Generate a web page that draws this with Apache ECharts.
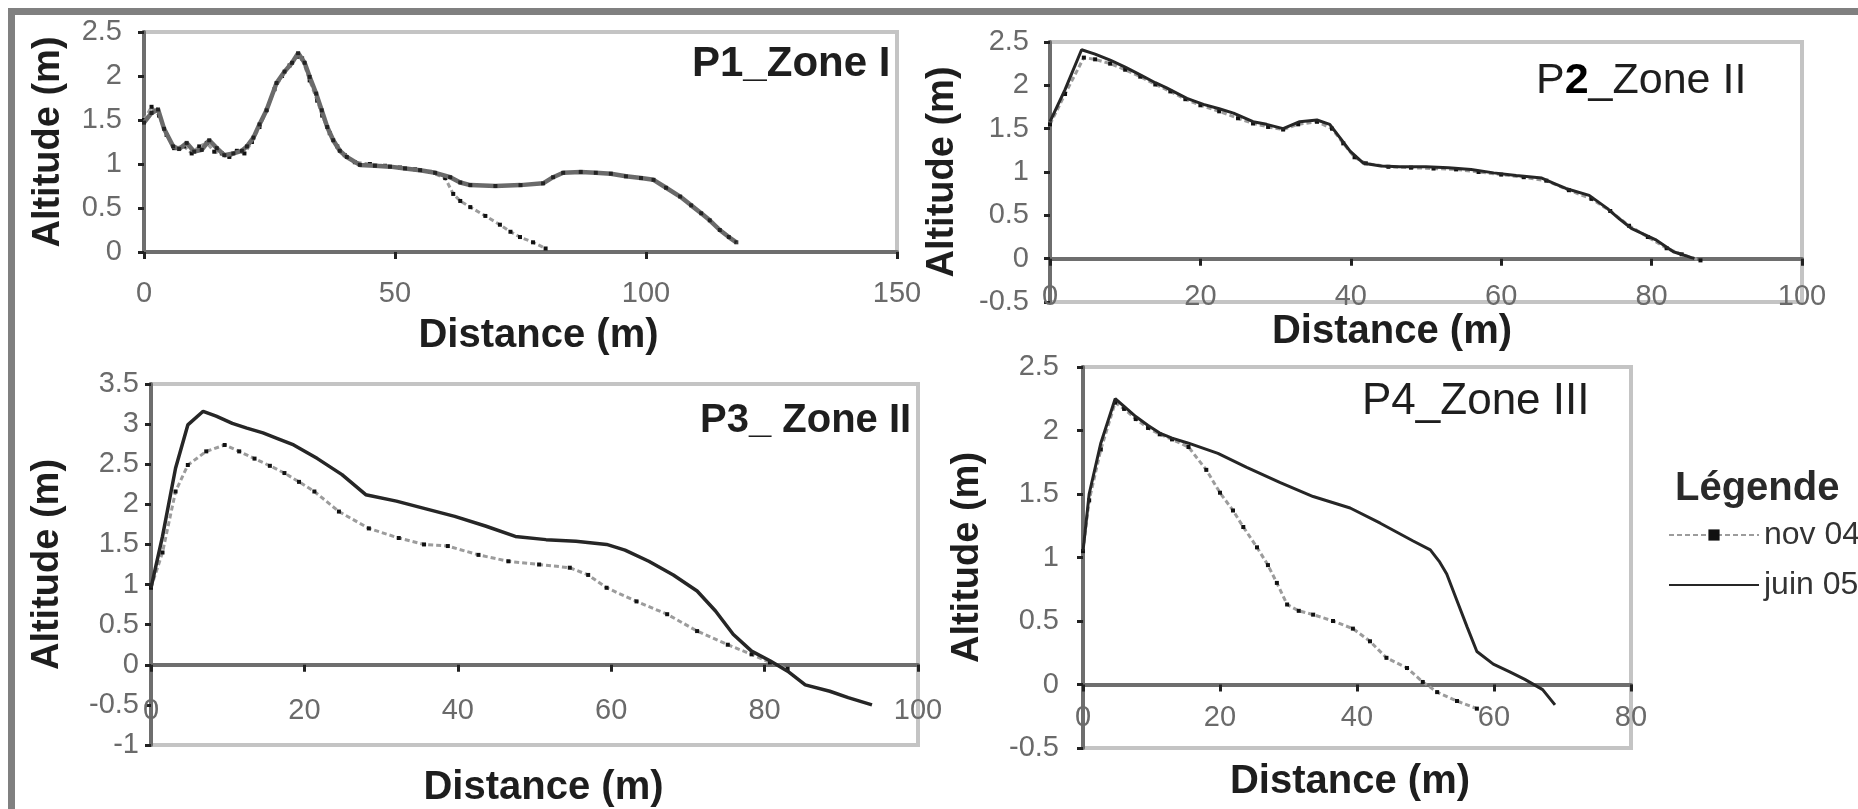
<!DOCTYPE html>
<html>
<head>
<meta charset="utf-8">
<script src="https://cdn.jsdelivr.net/npm/echarts@6/dist/echarts.min.js"></script>
<style>
html,body{margin:0;padding:0;background:#fff;}
#chart{width:1858px;height:809px;}
</style>
</head>
<body>
<div id="chart"></div>
<script>
// ---- data: [distance (m), altitude (m)] ----
var seriesNames = ['nov 04', 'juin 05'];

var p1Nov = [[0,1.5],[1.5,1.65],[3,1.55],[4.5,1.33],[6,1.18],[8,1.2],[9.5,1.12],[11,1.2],[12.5,1.24],[14,1.14],[15.5,1.12],[17,1.08],[18.5,1.15],[20,1.12],[21.5,1.25],[23,1.42],[24.5,1.62],[26,1.85],[27.5,2.0],[29,2.12],[30.5,2.22],[31.5,2.2],[33,1.95],[34.5,1.72],[35.5,1.55],[37,1.35],[38.5,1.2],[40,1.1],[42,1.02],[45,1.0],[48,0.98],[51,0.96],[54,0.94],[57,0.91],[60,0.84],[61.6,0.66],[63,0.58],[65,0.51],[68,0.41],[70.9,0.31],[73,0.23],[74.9,0.17],[77.5,0.11],[80,0.04]];
var p1Juin = [[0,1.47],[1.5,1.58],[2.8,1.62],[4,1.4],[5.8,1.2],[7,1.17],[8.5,1.24],[10,1.14],[11.5,1.16],[13,1.27],[14.5,1.18],[16,1.1],[17.8,1.12],[19.5,1.15],[20.5,1.2],[21.8,1.3],[23,1.45],[24.4,1.61],[26.4,1.92],[28,2.05],[29.5,2.15],[30.7,2.26],[32,2.15],[33,1.99],[34.3,1.8],[35.4,1.61],[36.5,1.42],[37.7,1.27],[39,1.15],[40.4,1.08],[43,0.99],[46,0.98],[49,0.97],[52,0.95],[55,0.93],[58,0.9],[61,0.85],[63,0.79],[65,0.76],[70,0.75],[75,0.76],[79.5,0.78],[81.5,0.85],[83.5,0.9],[87,0.91],[90,0.9],[93,0.89],[96,0.86],[99,0.84],[101.5,0.82],[104,0.73],[106.8,0.63],[109,0.53],[111,0.44],[112.7,0.36],[114.7,0.25],[116.5,0.17],[118,0.11]];

var p2Nov = [[0,1.55],[2,1.9],[4.5,2.32],[6,2.3],[8,2.25],[10,2.18],[12,2.1],[14,2.01],[16,1.93],[18,1.84],[20,1.77],[22.5,1.7],[25,1.62],[27,1.56],[29,1.52],[31,1.49],[33,1.55],[35.5,1.58],[37.5,1.5],[39,1.33],[40.5,1.17],[42,1.1],[45,1.06],[48,1.05],[51,1.04],[54,1.03],[57,1.0],[60,0.97],[63,0.94],[66,0.9],[69,0.79],[72,0.69],[74.5,0.55],[77,0.38],[79.5,0.25],[82,0.12],[84,0.05],[86.5,-0.02]];
var p2Juin = [[0,1.58],[2,1.95],[4.2,2.41],[6,2.36],[8,2.29],[10,2.21],[12,2.12],[14,2.03],[15.5,1.97],[18.2,1.85],[20.4,1.78],[22.5,1.73],[24.4,1.68],[27,1.58],[28.8,1.55],[31,1.5],[33.2,1.58],[35.5,1.6],[37.2,1.55],[38.6,1.39],[39.9,1.24],[41.7,1.1],[44,1.07],[46.5,1.06],[50,1.06],[53,1.05],[56,1.03],[59,0.99],[62,0.96],[65.4,0.93],[67,0.87],[68.6,0.81],[71.7,0.73],[74.1,0.58],[75.7,0.46],[77.3,0.35],[79,0.28],[80.5,0.22],[82.9,0.08],[85.7,0.0]];

var p3Nov = [[0,0.96],[1.5,1.4],[3.2,2.16],[4.8,2.49],[7.2,2.66],[9.6,2.74],[11.5,2.66],[13.5,2.57],[15.5,2.48],[17.4,2.39],[19.3,2.28],[21.3,2.16],[24.5,1.91],[28.4,1.7],[32.3,1.58],[35.6,1.5],[38.7,1.48],[42.7,1.37],[46.6,1.29],[50.6,1.25],[54.6,1.21],[57,1.12],[59.4,0.96],[63.3,0.79],[67.3,0.63],[71.2,0.42],[75.2,0.25],[78.3,0.13],[80.7,0.03],[83,-0.05]];
var p3Juin = [[0,0.96],[1.5,1.6],[3.2,2.45],[4.8,2.99],[6.8,3.16],[8.5,3.1],[10.6,3.01],[12.5,2.95],[14.6,2.89],[16.5,2.82],[18.6,2.74],[21.7,2.57],[24.9,2.37],[28,2.12],[32,2.04],[35.6,1.95],[39.6,1.85],[43.6,1.73],[47.5,1.6],[51.5,1.56],[55.4,1.54],[59.4,1.5],[61.8,1.43],[64.9,1.29],[68.1,1.12],[71.2,0.92],[73.6,0.67],[75.9,0.38],[78.3,0.17],[80.7,0.05],[83,-0.08],[85.3,-0.25],[88.5,-0.33],[90.9,-0.41],[94,-0.5]];

var p4Nov = [[0,1.05],[0.9,1.45],[2.6,1.85],[4.7,2.22],[6,2.17],[7.7,2.09],[9.5,2.02],[11.2,1.97],[13,1.93],[15.4,1.87],[18,1.69],[20,1.51],[21.9,1.37],[23.4,1.24],[25.4,1.08],[27,0.94],[28.3,0.8],[29.8,0.63],[31.5,0.58],[33.6,0.55],[36.5,0.5],[39.4,0.44],[41.9,0.34],[44.3,0.21],[47.3,0.13],[49.6,0.02],[51.7,-0.06],[54.6,-0.13],[57.5,-0.19]];
var p4Juin = [[0,1.05],[0.9,1.5],[2.6,1.9],[4.7,2.25],[6,2.19],[7.7,2.11],[9.5,2.04],[11.2,1.98],[13,1.94],[15.4,1.9],[19.7,1.82],[23.9,1.71],[28.8,1.59],[33.6,1.48],[39,1.39],[43.4,1.27],[48.2,1.13],[50.7,1.06],[52,0.97],[53.1,0.87],[54.6,0.66],[56.1,0.45],[57.5,0.26],[59.9,0.16],[62.3,0.1],[64.5,0.04],[67.1,-0.04],[68.9,-0.16]];

// axis ranges: [min, max, interval]
var xRanges = [[0,150,50],[0,100,20],[0,100,20],[0,80,20]];
var yRanges = [[0,2.5,0.5],[-0.5,2.5,0.5],[-1,3.5,0.5],[-0.5,2.5,0.5]];
var panelTitles = ['P1_Zone I', 'P2_Zone II', 'P3_ Zone II', 'P4_Zone III'];
var xTitle = 'Distance (m)';
var yTitle = 'Altitude (m)';
var legendTitle = 'Légende';

// ---- layout ----
var FONT = '"Liberation Sans", Arial, sans-serif';
var grids = [
  {left:144, top:32, width:753, height:220},
  {left:1050, top:42, width:752, height:260},
  {left:151, top:384, width:767, height:363},
  {left:1083, top:367, width:548, height:381}
];
var xLabelMargin = [27, -20, -49, -45];
var yLabelMargin = [22, 21, 12, 24];
var xNameGap = [64, 8, 23, 14];
var yNameGap = [76, 88, 84, 96];
var xNamePad = [[0,0,0,36],[0,68,0,0],[0,0,0,18],[0,14,0,0]];

var chart = echarts.init(document.getElementById('chart'), null, {renderer:'canvas'});

var gridOpts = grids.map(function(g){
  return {left:g.left, top:g.top, width:g.width, height:g.height,
    show:true, borderColor:'#c4c4c4', borderWidth:4, backgroundColor:'#fff', containLabel:false};
});

var xAxes = xRanges.map(function(r, i){
  return {
    type:'value', gridIndex:i, min:r[0], max:r[1], interval:r[2],
    axisLine:{show:true, onZero:true, lineStyle:{color:'#6e6e6e', width:4}},
    axisTick:{show:true, length:7, lineStyle:{color:'#222', width:3}},
    axisLabel:{margin:xLabelMargin[i], fontSize:29, color:'#6a6a6a', fontFamily:FONT},
    splitLine:{show:false},
    name:xTitle, nameLocation:'middle', nameGap:xNameGap[i],
    nameTextStyle:{fontSize:40, fontWeight:'bold', color:'#1e1e1e', fontFamily:FONT, padding:xNamePad[i]}
  };
});

var yAxes = yRanges.map(function(r, i){
  return {
    type:'value', gridIndex:i, min:r[0], max:r[1], interval:r[2],
    axisLine:{show:true, onZero:false, lineStyle:{color:'#6e6e6e', width:4}},
    axisTick:{show:true, length:6, lineStyle:{color:'#222', width:3}},
    axisLabel:{margin:yLabelMargin[i], fontSize:29, color:'#6a6a6a', fontFamily:FONT},
    splitLine:{show:false},
    name:yTitle, nameLocation:'middle', nameGap:yNameGap[i], nameRotate:90,
    nameTextStyle:{fontSize:38, fontWeight:'bold', color:'#1e1e1e', fontFamily:FONT}
  };
});

function novSeries(data, idx){
  return {name:'nov 04', type:'line', xAxisIndex:idx, yAxisIndex:idx, data:data,
    symbol:'rect', symbolSize:4, showSymbol:true, smooth:false,
    lineStyle:{color:'#9c9c9c', width:3, type:[5,3]},
    itemStyle:{color:'#111'}, z:2};
}
function juinSeries(data, idx, col, w){
  return {name:'juin 05', type:'line', xAxisIndex:idx, yAxisIndex:idx, data:data,
    symbol:'none', smooth:false,
    lineStyle:{color:col, width:w},
    itemStyle:{color:'#222'}, z:3};
}

var series = [
  novSeries(p4Nov, 3), juinSeries(p4Juin, 3, '#262626', 3),
  novSeries(p1Nov, 0), juinSeries(p1Juin, 0, '#6a6a6a', 4.5),
  novSeries(p2Nov, 1), juinSeries(p2Juin, 1, '#262626', 3),
  novSeries(p3Nov, 2), juinSeries(p3Juin, 2, '#262626', 3.5)
];
// black marker dots on P1 juin line
series.push({name:'p1 juin marks', type:'scatter', xAxisIndex:0, yAxisIndex:0,
  data:p1Juin, symbol:'rect', symbolSize:4, itemStyle:{color:'#111'}, z:4});

var titleTop = [43, 60, 401, 380];
var titleLeft = [692, 1536, 700, 1362];
var titles = [
  {text:panelTitles[0], left:titleLeft[0], top:titleTop[0], padding:0,
   textStyle:{fontSize:42, fontWeight:'bold', color:'#1e1e1e', fontFamily:FONT}},
  {text:'{a|' + panelTitles[1].charAt(0) + '}{b|' + panelTitles[1].charAt(1) + '}{a|' + panelTitles[1].slice(2) + '}',
   left:titleLeft[1], top:titleTop[1], padding:0,
   textStyle:{fontSize:42, fontFamily:FONT, color:'#1e1e1e',
     rich:{a:{fontSize:43, fontWeight:'normal', color:'#1e1e1e', fontFamily:FONT},
           b:{fontSize:43, fontWeight:'bold', color:'#000', fontFamily:FONT}}}},
  {text:panelTitles[2], left:titleLeft[2], top:titleTop[2], padding:0,
   textStyle:{fontSize:40, fontWeight:'bold', color:'#1e1e1e', fontFamily:FONT}},
  {text:panelTitles[3], left:titleLeft[3], top:titleTop[3], padding:0,
   textStyle:{fontSize:44, fontWeight:'normal', color:'#1e1e1e', fontFamily:FONT}},
  {text:legendTitle, left:1675, top:469, padding:0,
   textStyle:{fontSize:40, fontWeight:'bold', color:'#2a2a2a', fontFamily:FONT}}
];

var option = {
  animation:false,
  backgroundColor:'#fff',
  title:titles,
  grid:gridOpts,
  xAxis:xAxes,
  yAxis:yAxes,
  legend:{
    data:[{name:seriesNames[0]}, {name:seriesNames[1], itemStyle:{opacity:0}}],
    orient:'vertical', left:1668, top:519, padding:0,
    itemWidth:90, itemHeight:14, itemGap:18,
    textStyle:{fontSize:32, color:'#333', fontFamily:FONT}
  },
  graphic:[
    {type:'rect', shape:{x:8, y:8, width:1850, height:7}, style:{fill:'#808080'}, silent:true},
    {type:'rect', shape:{x:8, y:8, width:7, height:801}, style:{fill:'#808080'}, silent:true}
  ],
  series:series
};
chart.setOption(option);
</script>
</body>
</html>
